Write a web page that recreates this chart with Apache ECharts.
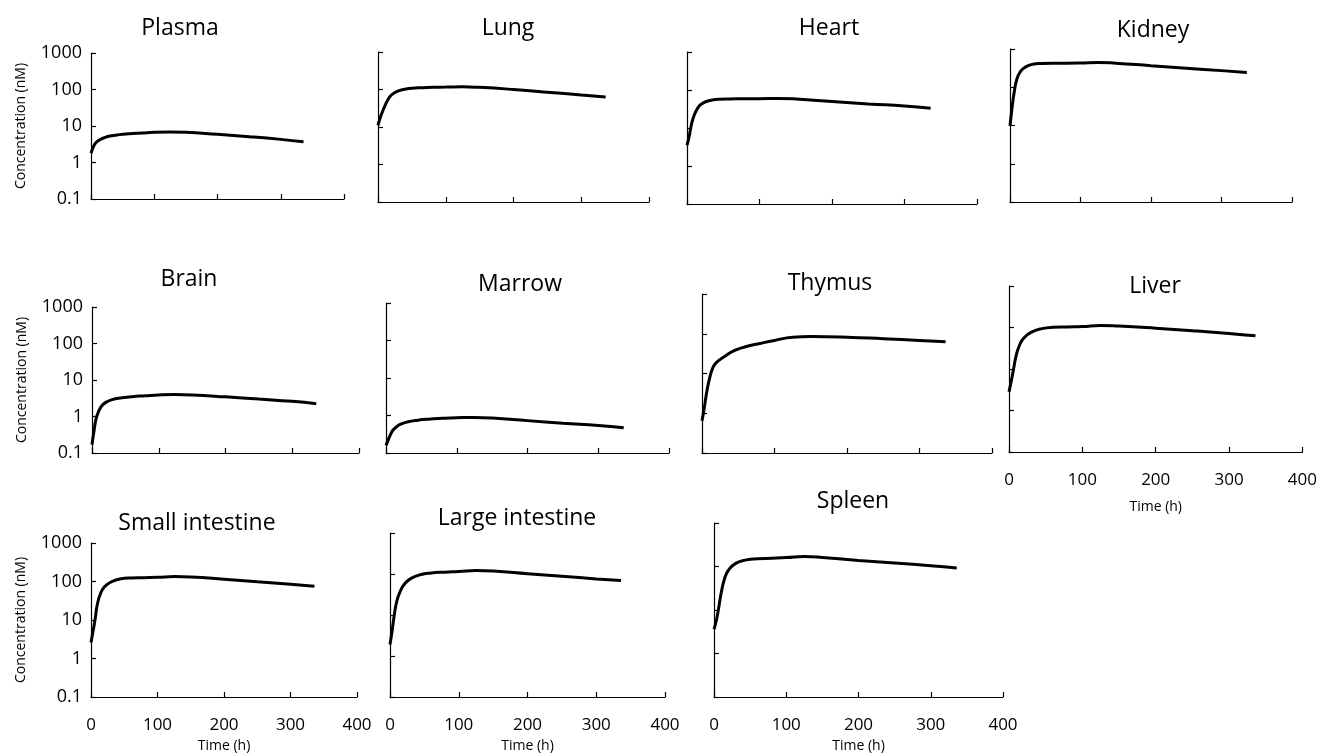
<!DOCTYPE html>
<html>
<head>
<meta charset="utf-8">
<script src="https://cdn.jsdelivr.net/npm/echarts@6/dist/echarts.min.js"></script>
<style>
html,body{margin:0;padding:0;background:#fff;}
#chart{width:1320px;height:754px;}
</style>
</head>
<body>
<div id="chart"></div>
<script>
// ---- data ----
const times = [0, 3, 6, 10, 15, 20, 30, 45, 60, 80, 100, 125, 150, 200, 250, 300, 336];
const plasma   = [1.8, 2.5, 3.2, 3.8, 4.3, 4.7, 5.3, 5.8, 6.1, 6.4, 6.7, 6.8, 6.7, 5.9, 5.1, 4.3, 3.7];
const lung     = [11, 17, 24, 36, 55, 72, 92, 106, 111, 114, 116, 118, 114, 100, 85, 71, 63];
const heart    = [3.5, 6, 12, 22, 34, 43, 52, 57, 58, 59, 59, 60, 58, 50, 43, 38, 33];
const kidney   = [9.8, 30, 75, 170, 260, 320, 390, 420, 425, 425, 430, 445, 425, 365, 315, 272, 242];
const brain    = [0.17, 0.4, 0.85, 1.4, 2.0, 2.4, 2.9, 3.25, 3.5, 3.7, 3.9, 4.0, 3.9, 3.45, 3.0, 2.6, 2.25];
const marrow   = [0.16, 0.22, 0.3, 0.41, 0.5, 0.58, 0.67, 0.75, 0.8, 0.84, 0.87, 0.89, 0.86, 0.73, 0.62, 0.54, 0.47];
const thymus   = [0.65, 1.3, 3.0, 7, 14, 19, 26, 38, 47, 57, 68, 82, 85, 82, 75, 68, 63];
const liver    = [2.8, 5, 9.5, 22, 40, 55, 76, 94, 101, 103, 105, 112, 108, 96, 84, 72, 63];
const smallInt = [2.6, 5, 10, 28, 52, 72, 97, 118, 124, 126, 128, 134, 131, 115, 99, 85, 75];
const largeInt = [1.9, 4, 9.5, 22, 38, 54, 77, 97, 106, 111, 115, 121, 118, 102, 88, 76, 69];
const spleen   = [3.6, 5.5, 10, 25, 55, 82, 118, 142, 151, 155, 160, 170, 162, 138, 120, 104, 92];

const panelNames = ['Plasma','Lung','Heart','Kidney','Brain','Marrow','Thymus','Liver','Small intestine','Large intestine','Spleen'];
const panelData = [plasma, lung, heart, kidney, brain, marrow, thymus, liver, smallInt, largeInt, spleen];
const xTickLabels = ['0','100','200','300','400'];
const yTickLabels = ['0.1','1','10','100','1000'];
const yName = 'Concentration (nM)';
const xName = 'Time (h)';

// ---- layout (positions / styles) ----
// [left, top, width, height, titleX, titleY, showYLabels, showXLabels, xNameGap]
const layout = [
  [91, 53, 253, 146, 180, 27, true, false, 0],
  [378, 52, 271, 150, 508, 27, false, false, 0],
  [687, 52, 290, 152, 829, 27, false, false, 0],
  [1010, 49, 282, 153, 1153, 29, false, false, 0],
  [92, 307, 267, 146, 189, 278, true, false, 0],
  [386, 303, 283, 150, 520, 283, false, false, 0],
  [702, 294, 290, 159, 830, 282, false, false, 0],
  [1009, 286, 295, 166, 1155, 285, false, true, 48],
  [91, 543, 266, 155, 197, 522, true, true, 42],
  [390, 533, 275, 165, 517, 517, false, true, 42],
  [714, 523, 289, 175, 853, 500, false, true, 42]
];

const FONT = 'Open Sans';
const axisLine = {show: true, lineStyle: {color: '#000', width: 1.2}};
const grids = [], xAxes = [], yAxes = [], series = [], titles = [];

panelNames.forEach((name, i) => {
  const L = layout[i];
  grids.push({left: L[0], top: L[1], width: L[2], height: L[3], containLabel: false});
  titles.push({
    text: name, left: L[4] - 5, top: L[5] - 15, textAlign: 'center',
    textStyle: {fontFamily: FONT, fontSize: 23, fontWeight: 'normal', color: '#000'}
  });
  xAxes.push({
    gridIndex: i, type: 'value', min: 0, max: 400, interval: 100,
    axisLine: axisLine,
    axisTick: {show: true, inside: true, length: 5, lineStyle: {color: '#000', width: 1.2}},
    splitLine: {show: false},
    axisLabel: {
      show: L[7], margin: 20, color: '#000', fontFamily: FONT, fontSize: 17,
      formatter: v => xTickLabels[Math.round(v / 100)]
    },
    name: L[7] ? xName : '', nameLocation: 'middle', nameGap: L[8],
    nameTextStyle: {fontFamily: FONT, fontSize: 14, color: '#000'}
  });
  yAxes.push({
    gridIndex: i, type: 'log', logBase: 10, min: 0.1, max: 1000,
    axisLine: axisLine,
    axisTick: {show: true, inside: true, length: 5, lineStyle: {color: '#000', width: 1.2}},
    splitLine: {show: false},
    minorTick: {show: false},
    axisLabel: {
      show: L[6], margin: 9, color: '#000', fontFamily: FONT, fontSize: 18,
      formatter: v => yTickLabels[Math.round(Math.log10(v)) + 1]
    },
    name: L[6] ? yName : '', nameLocation: 'middle', nameGap: 63, nameRotate: 90,
    nameTextStyle: {fontFamily: FONT, fontSize: 14, color: '#000'}
  });
  series.push({
    type: 'line', xAxisIndex: i, yAxisIndex: i,
    data: times.map((t, k) => [t, panelData[i][k]]),
    smooth: 0.5, symbol: 'none',
    lineStyle: {color: '#000', width: 3},
    silent: true, animation: false
  });
});

const chart = echarts.init(document.getElementById('chart'), null, {renderer: 'canvas'});
chart.setOption({
  backgroundColor: '#fff',
  animation: false,
  title: titles,
  grid: grids,
  xAxis: xAxes,
  yAxis: yAxes,
  series: series
});
</script>
</body>
</html>
